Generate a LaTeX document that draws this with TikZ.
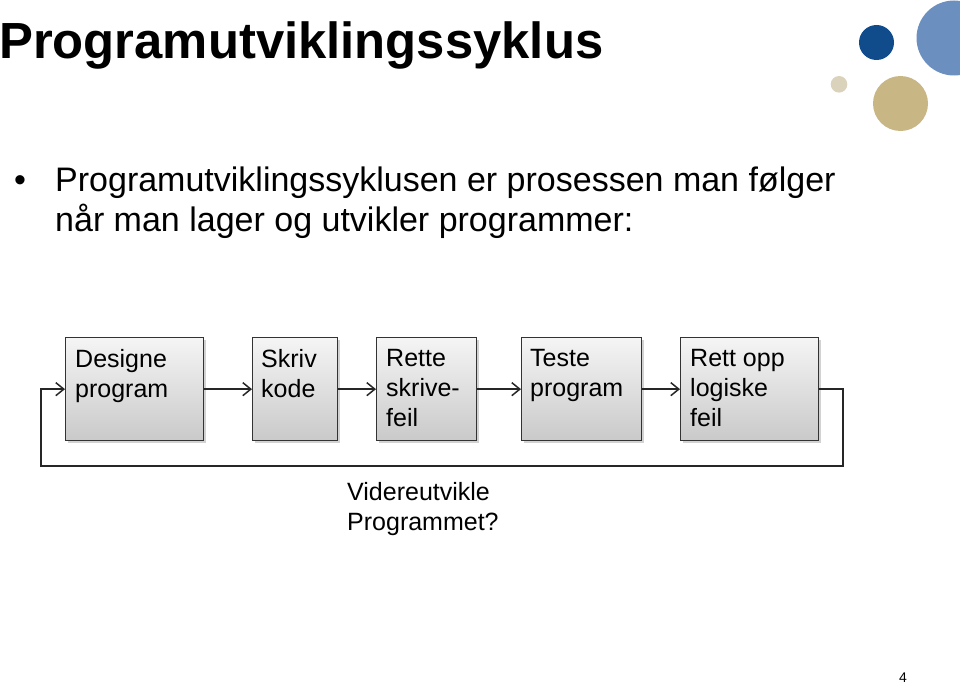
\documentclass[tikz,border=0pt]{standalone}
\usepackage{fontspec}
\setmainfont{Liberation Sans}
\usetikzlibrary{arrows.meta,shadows,calc}
\begin{document}
\begin{tikzpicture}[x=1pt,y=-1pt,
  stepbox/.style={draw=black!80, line width=1.3pt, top color=gray!8, bottom color=gray!42,
    drop shadow={shadow xshift=2pt, shadow yshift=-2pt, fill=black!35, opacity=0.5},
    anchor=north west, inner sep=0pt},
  boxtext/.style={anchor=north west, inner sep=0pt, align=left, font=\fontsize{25}{30}\selectfont},
  arr/.style={line width=1.6pt, draw=black!85, -{Straight Barb[length=8pt,width=13pt,line width=1.5pt]}},
  plain/.style={inner sep=0pt, anchor=base west}]
\useasboundingbox (0,0) rectangle (960,685);
% decorative circles
\fill[color={rgb,255:red,16;green,75;blue,140}] (876.5,42.5) circle (17.5);
\fill[color={rgb,255:red,107;green,143;blue,191}] (954,38) circle (37.5);
\fill[color={rgb,255:red,200;green,182;blue,132}] (900.5,103.5) circle (27.5);
\fill[color={rgb,255:red,218;green,210;blue,186}] (839,84.3) circle (8.3);
% title
\node[plain, font=\fontsize{50.8}{60}\selectfont\bfseries] (title) at (-1,59) {Programutviklingssyklus};
% bullet
\node[plain, font=\fontsize{34}{40}\selectfont] (bul) at (14,191) {•};
\node[plain, font=\fontsize{34}{40}\selectfont] (l1) at (55,191) {Programutviklingssyklusen er prosessen man følger};
\node[plain, font=\fontsize{34}{40}\selectfont] (l2) at (55,231) {når man lager og utvikler programmer:};
% boxes
\node[stepbox, minimum width=138, minimum height=103] (b1) at (65,337) {};
\node[stepbox, minimum width=85, minimum height=103] (b2) at (252,337) {};
\node[stepbox, minimum width=100, minimum height=103] (b3) at (376,337) {};
\node[stepbox, minimum width=120, minimum height=103] (b4) at (521,337) {};
\node[stepbox, minimum width=138, minimum height=103] (b5) at (680,337) {};
\node[boxtext] (t1) at (75,349.5) {Designe\\program};
\node[boxtext] (t2) at (261,349.5) {Skriv\\kode};
\node[boxtext] (t3) at (386,349.5) {Rette\\skrive-\\feil};
\node[boxtext] (t4) at (530,349.5) {Teste\\program};
\node[boxtext] (t5) at (690,349.5) {Rett opp\\logiske\\feil};
% connectors
\draw[arr] (b1.east) -- (b2.west);
\draw[arr] (b2.east) -- (b3.west);
\draw[arr] (b3.east) -- (b4.west);
\draw[arr] (b4.east) -- (b5.west);
\coordinate (r) at (843,466);
\coordinate (l) at (41,466);
\draw[arr] (b5.east) -| (r) -- (l) |- (b1.west);
% loop label
\node[boxtext] (lab) at (347,482) {Videreutvikle\\Programmet?};
% page number
\node[plain, font=\fontsize{14}{16}\selectfont] (pg) at (899,682) {4};
\end{tikzpicture}
\end{document}
